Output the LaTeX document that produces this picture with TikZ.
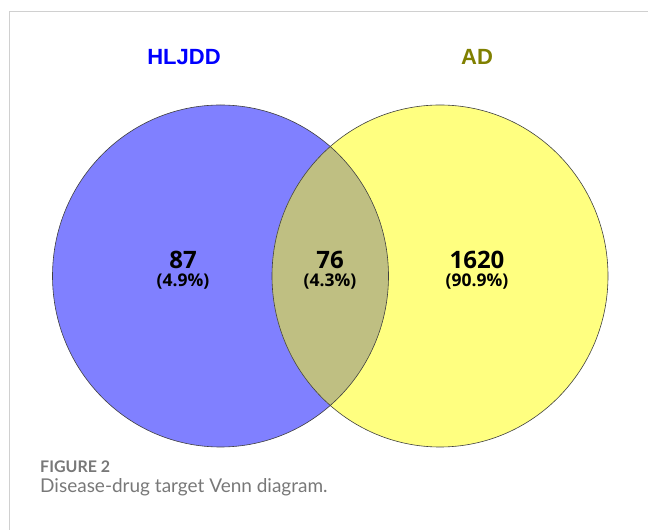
\documentclass[tikz,border=0pt]{standalone}
\usepackage{fontspec}
\usepackage{tikz}
\newfontfamily\setfont{Liberation Sans}
\newfontfamily\countfont{Open Sans}
\newfontfamily\capfont{Lato}
\definecolor{hljdd}{RGB}{128,128,255}
\definecolor{adyel}{RGB}{255,255,128}
\definecolor{both}{RGB}{191,191,130}
\definecolor{frame}{RGB}{208,208,208}
\definecolor{capgray}{RGB}{120,120,120}
\tikzset{
  setname/.style={anchor=base, font=\setfont\bfseries\fontsize{22}{26}\selectfont},
  count/.style={anchor=base, inner sep=0.5pt, font=\countfont\bfseries\fontsize{24}{28}\selectfont},
  share/.style={anchor=base, inner sep=0.5pt, font=\countfont\bfseries\fontsize{17.5}{20}\selectfont},
  rim/.style={draw=black!75, line width=0.6pt}
}

\begin{document}
\begin{tikzpicture}[x=1pt, y=1pt]
        \useasboundingbox (0,0) rectangle (648,530);

        % Coordinates
        \coordinate (A) at (220.5, 254);
        \coordinate (B) at (440, 254);
        \coordinate (C) at (9, 518);
        \coordinate (D) at (648, 518);
        \coordinate (E) at (9, 0);

        % Frame
        \draw[frame, line width=1pt] (E) -- (C) -- (D);

        % Sets
        \fill[hljdd] (A) ellipse [x radius=168, y radius=171];
        \fill[adyel] (B) ellipse [x radius=168, y radius=171];
        \begin{scope}
            \clip (A) ellipse [x radius=168, y radius=171];
            \fill[both] (B) ellipse [x radius=168, y radius=171];
        \end{scope}
        \draw[rim] (A) ellipse [x radius=168, y radius=171];
        \draw[rim] (B) ellipse [x radius=168, y radius=171];

        % Labels
        \node[setname, text=blue] (hl) at (184, 465) {HLJDD};
        \node[setname, text={rgb,255:red,128;green,128;blue,0}] (ad) at (477, 465) {AD};
        \node[count] (n1) at (183, 261) {87};
        \node[share] (p1) at (183, 243) {(4.9\%)};
        \node[count] (n2) at (330, 261) {76};
        \node[share] (p2) at (330, 243) {(4.3\%)};
        \node[count] (n3) at (477, 261) {1620};
        \node[share] (p3) at (477, 243) {(90.9\%)};

        % Caption
        \node[anchor=base west, inner sep=0, text=capgray, font=\capfont\bfseries\fontsize{16}{18}\selectfont] (fig) at (40, 57) {FIGURE 2};
        \node[anchor=base west, inner sep=0, text=capgray, font=\capfont\fontsize{19}{22}\selectfont] (cap) at (40, 37) {Disease-drug target Venn diagram.};
    \end{tikzpicture}
\end{document}
